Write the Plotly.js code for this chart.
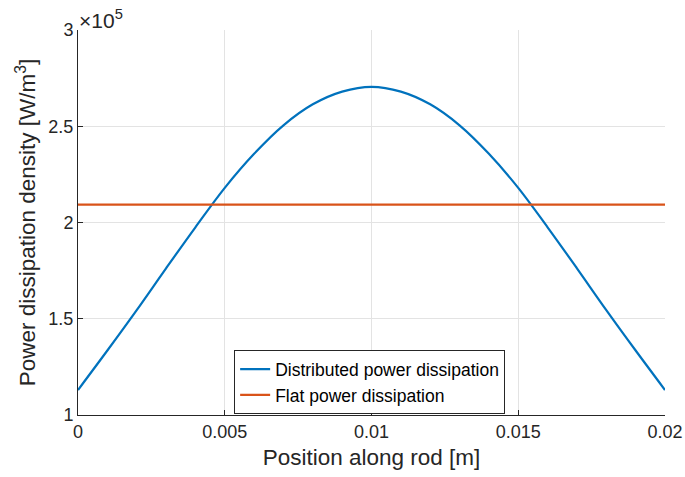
<!DOCTYPE html>
<html>
<head>
<meta charset="utf-8">
<script src="https://cdn.plot.ly/plotly-3.0.1.min.js"></script>
<style>
html,body{margin:0;padding:0;background:#fff;}
#chart{width:685px;height:477px;}
</style>
</head>
<body>
<div id="chart"></div>
<script>
// Position along rod [m]
const positions = [0,0.001,0.002,0.003,0.004,0.005,0.006,0.007,0.008,0.009,0.010,
                   0.011,0.012,0.013,0.014,0.015,0.016,0.017,0.018,0.019,0.020];
// Distributed power dissipation [W/m^3]
const distributed = [1.130e5,1.335e5,1.545e5,1.762e5,1.975e5,2.180e5,2.357e5,2.505e5,2.614e5,2.680e5,2.705e5,
                     2.680e5,2.614e5,2.505e5,2.357e5,2.180e5,1.975e5,1.762e5,1.545e5,1.335e5,1.130e5];
// Flat power dissipation [W/m^3]
const flatX = [0,0.020];
const flatY = [2.093e5,2.093e5];

const xTicks = [0,0.005,0.01,0.015,0.02];
const xTickText = ['0','0.005','0.01','0.015','0.02'];
const yTicks = [1e5,1.5e5,2e5,2.5e5,3e5];
const yTickText = ['1','1.5','2','2.5','3'];

const FONT = 'Liberation Sans, Arial, Helvetica, sans-serif';
const AX = '#262626';

const traces = [
  {x: positions, y: distributed, type:'scatter', mode:'lines', name:'Distributed power dissipation',
   line:{color:'#0072BD', width:2.2, shape:'spline', smoothing:1}},
  {x: flatX, y: flatY, type:'scatter', mode:'lines', name:'Flat power dissipation',
   line:{color:'#D95319', width:2.2}}
];

const layout = {
  width:685, height:477,
  margin:{l:78, r:20, t:30, b:62},
  paper_bgcolor:'#fff', plot_bgcolor:'#fff',
  font:{family:FONT, size:18, color:AX},
  showlegend:true,
  legend:{x:0.266, y:0.168, xanchor:'left', yanchor:'top',
          bgcolor:'#fff', bordercolor:AX, borderwidth:1,
          font:{family:FONT, size:17.5, color:'#000'},
          tracegroupgap:0, itemwidth:30},
  xaxis:{range:[0,0.02], tickvals:xTicks, ticktext:xTickText,
         showgrid:true, gridcolor:'#e3e3e3', gridwidth:1,
         showline:true, linecolor:AX, linewidth:1, mirror:false,
         ticks:'inside', ticklen:5, tickcolor:AX, zeroline:false,
         tickfont:{family:FONT, size:18, color:AX},
         title:{text:'Position along rod [m]', standoff:8, font:{family:FONT, size:22.5, color:AX}}},
  yaxis:{range:[1e5,3e5], tickvals:yTicks, ticktext:yTickText,
         showgrid:true, gridcolor:'#e3e3e3', gridwidth:1,
         showline:true, linecolor:AX, linewidth:1, mirror:false,
         ticks:'inside', ticklen:5, tickcolor:AX, zeroline:false,
         tickfont:{family:FONT, size:18, color:AX},
         title:{text:'Power dissipation density [W/m<sup>3</sup>]', standoff:6, font:{family:FONT, size:22.5, color:AX}}},
  annotations:[{xref:'paper', yref:'paper', x:0, y:1, xanchor:'left', yanchor:'bottom',
                text:'×10<sup>5</sup>', showarrow:false, font:{family:FONT, size:21, color:AX}, yshift:-4, xshift:-1}]
};

Plotly.newPlot('chart', traces, layout, {displayModeBar:false, staticPlot:true});
</script>
</body>
</html>
